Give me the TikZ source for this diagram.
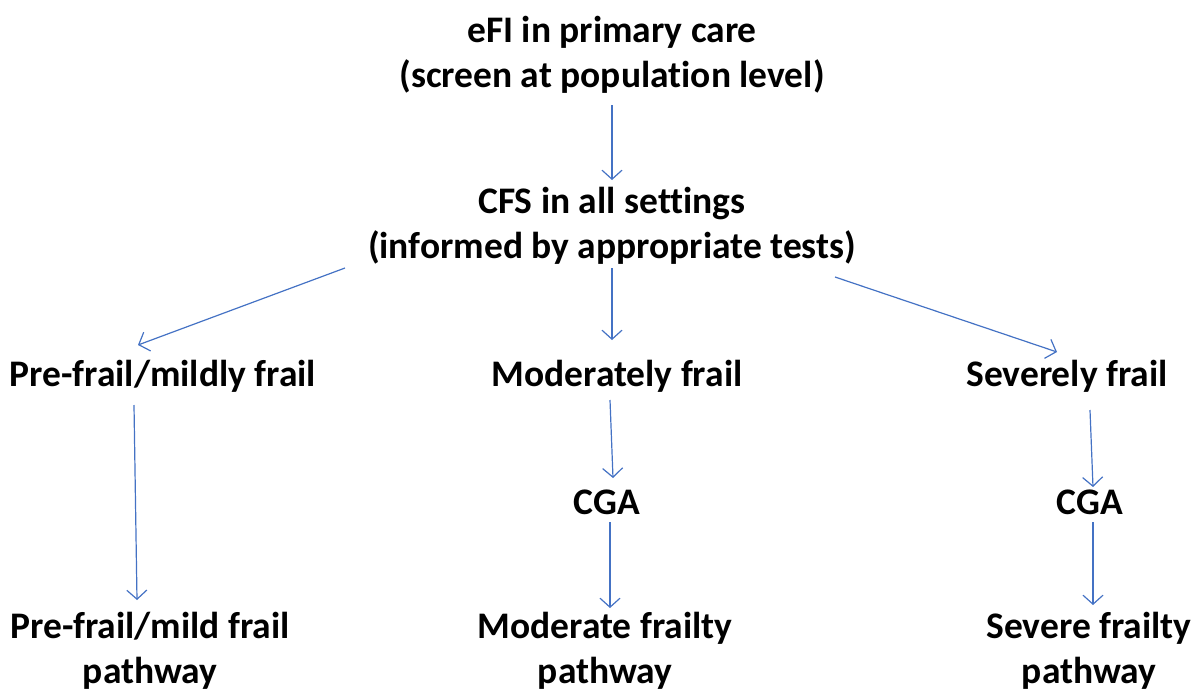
\documentclass[tikz,border=0pt]{standalone}
\usepackage{fontspec}
\setmainfont{Carlito}[RawFeature={-liga;-clig;-calt;-dlig;-rlig}]
\usetikzlibrary{arrows.meta,calc}
\begin{document}
\begin{tikzpicture}[x=1pt,y=-1pt,
  lbl/.style={font=\bfseries\fontsize{37.5}{45}\selectfont, align=center, inner sep=0pt, text=black},
  arr/.style={draw={rgb,255:red,68;green,114;blue,196}, line width=1.2pt, -{Straight Barb[length=9pt,width=20pt,line width=1.2pt]}}]
\useasboundingbox (0,0) rectangle (1195,691);
\node[lbl] (efi) at (612,55) {eFI in primary care\\(screen at population level)};
\node[lbl] (cfs) at (612,226) {CFS in all settings\\(informed by appropriate tests)};
\node[lbl] (pre) at (163,376) {Pre-frail/mildly frail};
\node[lbl] (mod) at (617,376) {Moderately frail};
\node[lbl] (sev) at (1067,376) {Severely frail};
\node[lbl] (cga1) at (607,502) {CGA};
\node[lbl] (cga2) at (1090,502) {CGA};
\node[lbl] (prep) at (150,651) {Pre-frail/mild frail\\pathway};
\node[lbl] (modp) at (605,651) {Moderate frailty\\pathway};
\node[lbl] (sevp) at (1089,651) {Severe frailty\\pathway};
\coordinate (c1) at (345,268);
\coordinate (c2) at (612,268);
\coordinate (c3) at (835,277);
\draw[arr] (612,105) -- (612,180);
\draw[arr] (c1) -- (138,345);
\draw[arr] (c2) -- (612,340);
\draw[arr] (c3) -- (1057,352);
\draw[arr] (134,405) -- (137,600);
\draw[arr] (610,400) -- (613,478);
\draw[arr] (1090,410) -- (1093,487);
\draw[arr] (610,522) -- (610,608);
\draw[arr] (1093,522) -- (1093,605);
\end{tikzpicture}
\end{document}
